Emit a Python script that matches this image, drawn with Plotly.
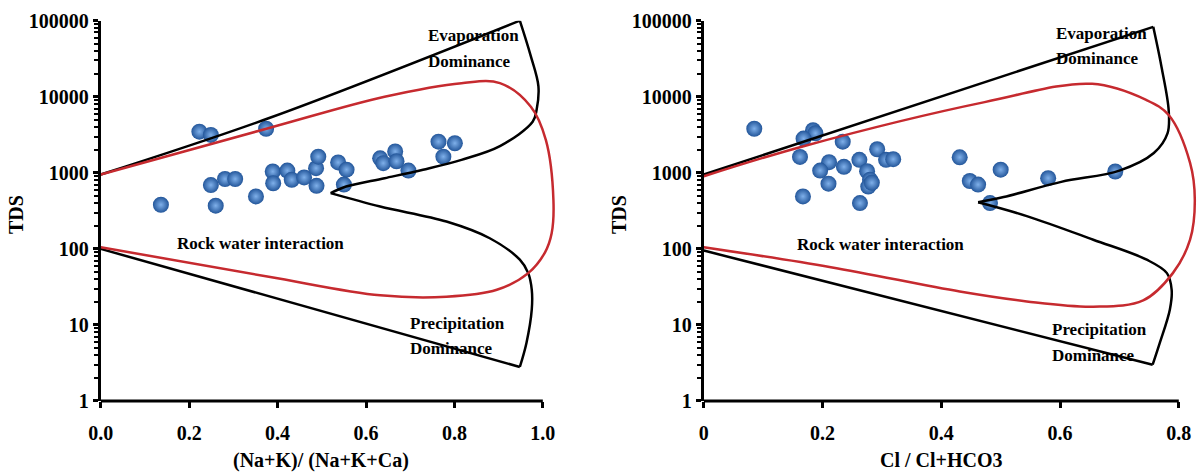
import plotly.graph_objects as go

W, H = 1198, 473

# ---------------- data: left panel (Na+K)/(Na+K+Ca) ----------------
left_x = [0.136, 0.223, 0.249, 0.374, 0.249, 0.260, 0.281, 0.304, 0.351, 0.389,
          0.390, 0.422, 0.432, 0.460, 0.488, 0.487, 0.492, 0.537, 0.556, 0.550,
          0.632, 0.639, 0.666, 0.669, 0.696, 0.764, 0.801, 0.775]
left_tds = [380, 3480, 3150, 3800, 690, 370, 830, 830, 490, 1040,
            730, 1070, 810, 870, 675, 1150, 1630, 1370, 1100, 700,
            1550, 1340, 1910, 1420, 1070, 2570, 2450, 1630]

# ---------------- data: right panel Cl/(Cl+HCO3) ----------------
right_x = [0.085, 0.184, 0.188, 0.168, 0.162, 0.234, 0.211, 0.196, 0.210, 0.236,
           0.262, 0.275, 0.280, 0.277, 0.292, 0.307, 0.319, 0.167, 0.263, 0.431,
           0.500, 0.448, 0.462, 0.482, 0.580, 0.693, 0.283]
right_tds = [3800, 3630, 3310, 2820, 1620, 2570, 1380, 1070, 720, 1200,
             1480, 1050, 810, 660, 2040, 1480, 1510, 490, 400, 1600,
             1100, 780, 700, 400, 850, 1040, 740]

# ---------------- Gibbs boundary curves (left) ----------------
L_top_x = [0.0, 0.381, 0.948]
L_top_y = [950, 5250, 100000]
L_evap_x = [0.948, 0.972, 0.99, 0.986, 0.977, 0.903, 0.816, 0.729, 0.642, 0.555, 0.52]
L_evap_y = [100000, 35500, 13800, 6760, 4680, 2240, 1480, 1100, 850, 660, 540]
L_prec_x = [0.52, 0.632, 0.782, 0.88, 0.948, 0.967, 0.975, 0.975, 0.963, 0.948]
L_prec_y = [540, 360, 229, 138, 72, 48, 29, 16, 5.8, 2.8]
L_bot_x = [0.948, 0.0]
L_bot_y = [2.8, 100]
L_red_x = [0.0, 0.381, 0.642, 0.816, 0.903, 0.973, 1.007, 1.024, 1.020, 1.005,
           0.967, 0.896, 0.782, 0.632, 0.380, 0.0]
L_red_y = [950, 3890, 10000, 15100, 15100, 7400, 2690, 440, 160, 90,
           48, 29, 23.5, 24.5, 43, 105]

# ---------------- Gibbs boundary curves (right) ----------------
R_top_x = [0.0, 0.757]
R_top_y = [950, 83000]
R_evap_x = [0.757, 0.771, 0.783, 0.781, 0.758, 0.700, 0.602, 0.505, 0.462]
R_evap_y = [83000, 24500, 6600, 3300, 1820, 1070, 760, 480, 410]
R_prec_x = [0.462, 0.544, 0.656, 0.746, 0.780, 0.788, 0.785, 0.768, 0.756]
R_prec_y = [410, 270, 132, 72, 48, 29, 16, 5.8, 3.0]
R_bot_x = [0.756, 0.0]
R_bot_y = [3.0, 95]
R_red_x = [0.0, 0.168, 0.473, 0.654, 0.745, 0.783, 0.819, 0.827, 0.819, 0.790,
           0.740, 0.656, 0.544, 0.431, 0.214, 0.0]
R_red_y = [900, 2240, 8500, 14800, 9100, 5750, 1350, 437, 132, 48,
           21, 17.4, 20.4, 27.5, 57.5, 105]

left_ticks = [0.0, 0.2, 0.4, 0.6, 0.8, 1.0]
left_ticktext = ["0.0", "0.2", "0.4", "0.6", "0.8", "1.0"]
right_ticks = [0.0, 0.2, 0.4, 0.6, 0.8]
right_ticktext = ["0", "0.2", "0.4", "0.6", "0.8"]
y_ticks = [1, 10, 100, 1000, 10000, 100000]
y_ticktext = ["1", "10", "100", "1000", "10000", "100000"]
minor_digits = [2, 3, 4, 5, 6, 7, 8, 9]
decades = [1, 10, 100, 1000, 10000]
y_minor = [d * m for d in decades for m in minor_digits]

FONT = "Liberation Serif"
BLACK = "#000000"
RED = "#c62a2f"

fig = go.Figure()

marker = dict(size=16, color="#23569a", line=dict(width=0),
              gradient=dict(type="radial", color="#7fb0ea"))

fig.add_trace(go.Scatter(x=left_x, y=left_tds, mode="markers", marker=marker,
                         xaxis="x", yaxis="y", showlegend=False))
fig.add_trace(go.Scatter(x=right_x, y=right_tds, mode="markers", marker=marker,
                         xaxis="x2", yaxis="y2", showlegend=False))

def add_line(xs, ys, xa, ya, color, shape="linear"):
    fig.add_trace(go.Scatter(x=xs, y=ys, mode="lines", xaxis=xa, yaxis=ya,
                             line=dict(color=color, width=2.5, shape=shape,
                                       smoothing=1.0 if shape == "spline" else None),
                             showlegend=False, hoverinfo="skip"))

add_line(L_top_x, L_top_y, "x", "y", BLACK, "spline")
add_line(L_evap_x, L_evap_y, "x", "y", BLACK, "spline")
add_line(L_prec_x, L_prec_y, "x", "y", BLACK, "spline")
add_line(L_bot_x, L_bot_y, "x", "y", BLACK)
add_line(L_red_x, L_red_y, "x", "y", RED, "spline")

add_line(R_top_x, R_top_y, "x2", "y2", BLACK)
add_line(R_evap_x, R_evap_y, "x2", "y2", BLACK, "spline")
add_line(R_prec_x, R_prec_y, "x2", "y2", BLACK, "spline")
add_line(R_bot_x, R_bot_y, "x2", "y2", BLACK)
add_line(R_red_x, R_red_y, "x2", "y2", RED, "spline")

tickfont = dict(family=FONT, size=20, color="black", weight="bold")

def xaxis_cfg(domain, rng, tv, tt, anchor):
    return dict(domain=domain, range=rng, tickmode="array", tickvals=tv, ticktext=tt,
                ticks="outside", ticklen=6, tickwidth=3, tickcolor="black",
                showline=False, showgrid=False, zeroline=False, anchor=anchor,
                tickfont=tickfont, ticklabelstandoff=8, fixedrange=True,
                automargin=False)

def yaxis_cfg(anchor):
    return dict(domain=[0.15222, 0.95624], type="log", range=[0, 5],
                tickmode="array", tickvals=y_ticks, ticktext=y_ticktext,
                ticks="outside", ticklen=5, tickwidth=3,
                tickcolor="black", showline=True, linewidth=3, linecolor="black",
                showgrid=False, zeroline=False, anchor=anchor, tickfont=tickfont,
                minor=dict(tickmode="array", tickvals=y_minor, ticks="outside",
                           ticklen=4, tickwidth=2, tickcolor="black", showgrid=False),
                fixedrange=True, automargin=False)

fig.update_layout(
    width=W, height=H, margin=dict(l=0, r=0, t=0, b=0),
    paper_bgcolor="white", plot_bgcolor="rgba(0,0,0,0)",
    xaxis=xaxis_cfg([0.08414, 0.46786], [0, 1.04], left_ticks, left_ticktext, "y"),
    yaxis=yaxis_cfg("x"),
    xaxis2=xaxis_cfg([0.58748, 0.99883], [0, 0.83], right_ticks, right_ticktext, "y2"),
    yaxis2=yaxis_cfg("x2"),
)

# bottom axis lines end at the last tick
fig.add_shape(type="line", xref="x", yref="y domain", x0=0, x1=1.0, y0=0, y1=0,
              line=dict(color="black", width=3))
fig.add_shape(type="line", xref="x2", yref="y2 domain", x0=0, x1=0.8, y0=0, y1=0,
              line=dict(color="black", width=3))

def ann(text, px, py, size=17, xanchor="left", angle=0):
    fig.add_annotation(text=text, x=px / W, y=(H - py) / H, xref="paper", yref="paper",
                       showarrow=False, xanchor=xanchor, yanchor="middle", textangle=angle,
                       font=dict(family=FONT, size=size, color="black", weight="bold"))

# region labels
ann("Evaporation", 426, 36)
ann("Dominance", 426, 61)
ann("Rock water interaction", 175, 243)
ann("Precipitation", 408, 323)
ann("Dominance", 408, 349)
ann("Evaporation", 1054, 33)
ann("Dominance", 1054, 59)
ann("Rock water interaction", 795, 244)
ann("Precipitation", 1050, 329)
ann("Dominance", 1050, 355)

# axis titles
ann("(Na+K)/ (Na+K+Ca)", 321, 460, size=20, xanchor="center")
ann("Cl / Cl+HCO3", 941, 460, size=20, xanchor="center")
ann("TDS", 16, 215, size=20, xanchor="center", angle=-90)
ann("TDS", 619, 215, size=20, xanchor="center", angle=-90)

fig.write_html("out.html", config={"displayModeBar": False},
               post_script="document.body.style.margin='0';document.body.style.overflow='hidden';")
